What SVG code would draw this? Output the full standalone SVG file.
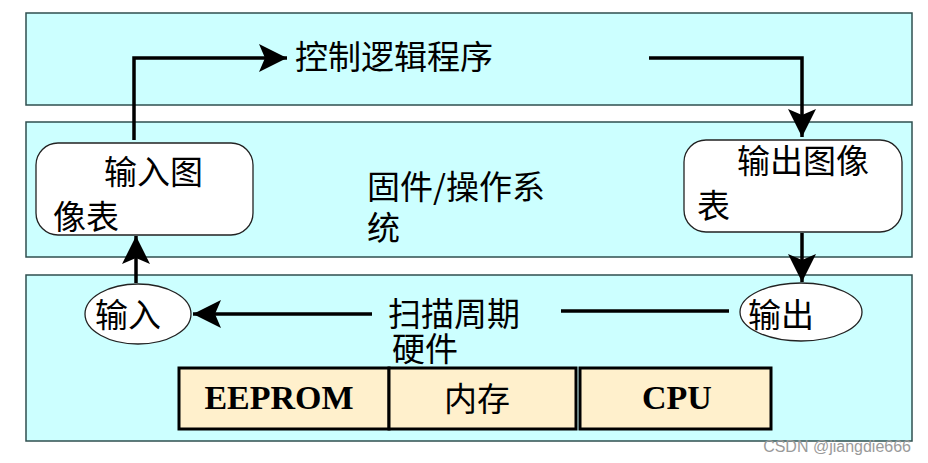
<svg xmlns="http://www.w3.org/2000/svg" width="928" height="463" viewBox="0 0 928 463">
<style>
.layer{fill:#ccffff;stroke:#2f4f4f;stroke-width:1.5}
.box{fill:#ffffff;stroke:#222;stroke-width:1.3}
.hw{fill:#fff0cc;stroke:#000;stroke-width:3}
.t{font-family:"Noto Sans CJK SC","Noto Sans",sans-serif;font-size:33px;fill:#000}
.b{font-family:"Liberation Serif",serif;font-weight:bold;font-size:34px;fill:#000}
.c{fill:none;stroke:#000;stroke-width:3.5}
</style>
<defs>
<marker id="arr" viewBox="0 0 28 28" refX="28" refY="14" markerWidth="28" markerHeight="28" orient="auto" markerUnits="userSpaceOnUse">
<path d="M0,0 L28,14 L0,28 L6,14 Z" fill="#000"/>
</marker>
</defs>
<g id="layer-logic"><rect class="layer" x="26" y="13" width="886" height="92"/><text class="t" x="295" y="69" font-size="35">控制逻辑程序</text></g>
<g id="layer-firmware"><rect class="layer" x="26" y="122" width="886" height="135"/><text class="t" x="367" y="199" font-size="33">固件/操作系</text><text class="t" x="367" y="240" font-size="33">统</text></g>
<g id="layer-hardware"><rect class="layer" x="26" y="275" width="886" height="166"/><text class="t" x="388" y="326" font-size="34">扫描周期</text><text class="t" x="392" y="361">硬件</text></g>
<g id="input-table"><rect class="box" x="36" y="143" width="217" height="92" rx="22"/><text class="t" x="104" y="184">输入图</text><text class="t" x="53" y="229">像表</text></g>
<g id="output-table"><rect class="box" x="684" y="140" width="218" height="92" rx="22"/><text class="t" x="737" y="173">输出图像</text><text class="t" x="697" y="218">表</text></g>
<g id="input"><ellipse class="box" cx="138" cy="314" rx="53" ry="30"/><text class="t" x="95" y="327">输入</text></g>
<g id="output"><ellipse class="box" cx="801" cy="312" rx="61" ry="29"/><text class="t" x="748" y="327">输出</text></g>
<g id="hw-eeprom"><rect class="hw" x="179" y="368" width="210" height="61"/><text class="b" x="279" y="409" text-anchor="middle">EEPROM</text></g>
<g id="hw-memory"><rect class="hw" x="389" y="368" width="187" height="61"/><text class="t" x="477" y="411" text-anchor="middle">内存</text></g>
<g id="hw-cpu"><rect class="hw" x="580" y="368" width="191" height="61"/><text class="b" x="677" y="409" text-anchor="middle">CPU</text></g>
<g id="connectors">
<path class="c" d="M134,140 V58 H287" marker-end="url(#arr)"/>
<path class="c" d="M649,58 H802 V137" marker-end="url(#arr)"/>
<path class="c" d="M802,233 V282" marker-end="url(#arr)"/>
<path class="c" d="M561,311 H729"/>
<path class="c" d="M372,314 H193" marker-end="url(#arr)"/>
<path class="c" d="M136,283 V236" marker-end="url(#arr)"/>
</g>
<text x="911" y="452" text-anchor="end" font-family="Liberation Sans,sans-serif" font-size="16" fill="#9a9a9a">CSDN @jiangdie666</text>
</svg>
